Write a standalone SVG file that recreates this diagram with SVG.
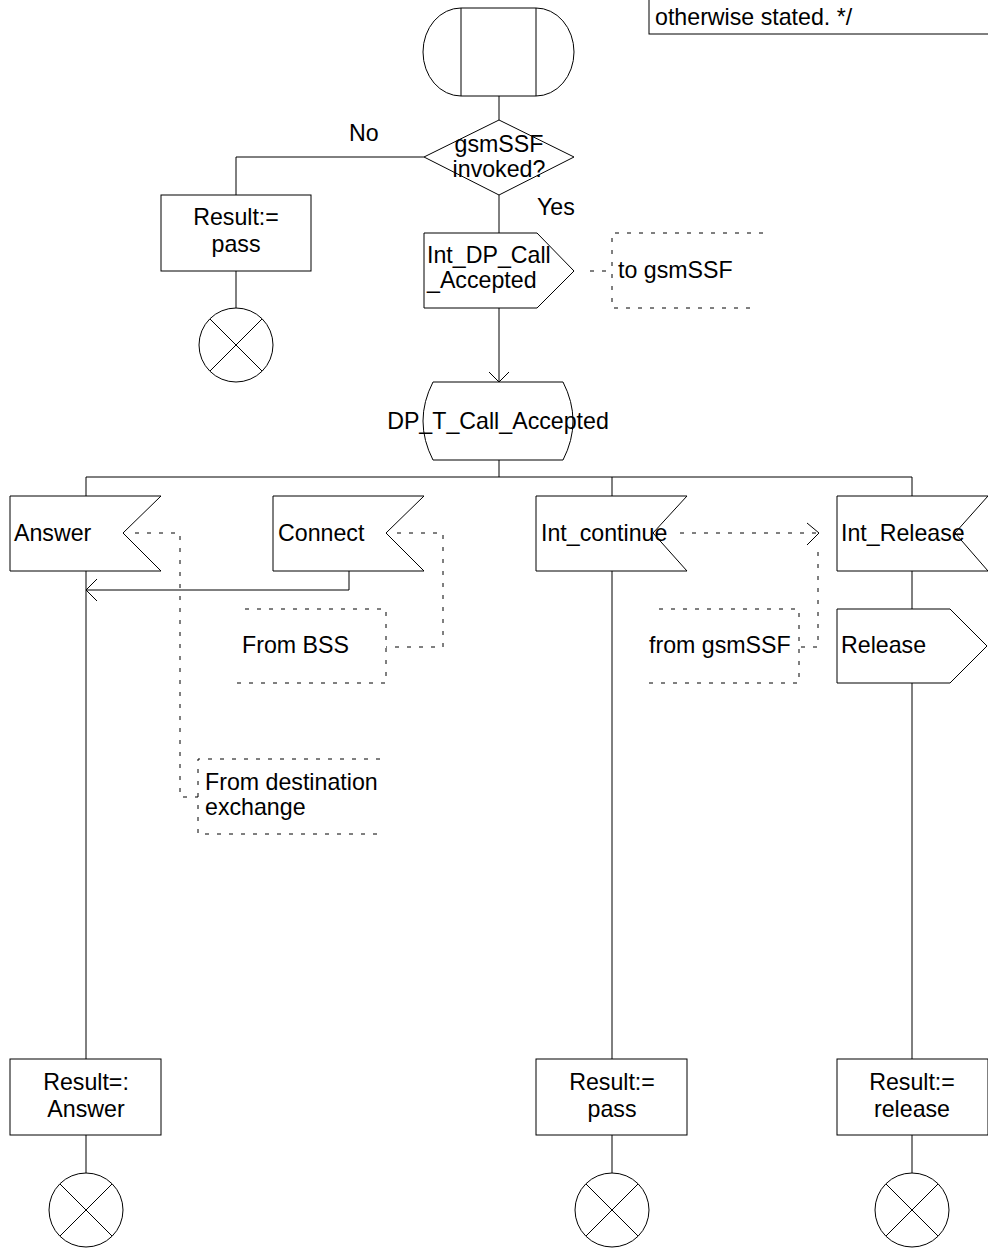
<svg xmlns="http://www.w3.org/2000/svg" width="988" height="1248" viewBox="0 0 988 1248">
<style>
.s{fill:#fff;stroke:#000;stroke-width:1}
.l{fill:none;stroke:#000;stroke-width:1}
.d{fill:none;stroke:#000;stroke-width:1;stroke-dasharray:4 8}
text{font-family:"Liberation Sans",Arial,sans-serif;font-size:23.2px;fill:#000}
.m{text-anchor:middle}
</style>
<rect width="988" height="1248" fill="#fff"/>
<g id="connectors">
<path class="l" d="M499,96V120M499,195V233M499,308V382M489,372L499,382L509,372"/>
<path class="l" d="M424,157H236V195M236,271V308"/>
<path class="l" d="M499,460V477M86,477H912M86,477V496M612,477V496M912,477V496"/>
<path class="l" d="M86,571V1059M349,571V590H86M97,579L86,590L97,601"/>
<path class="l" d="M612,571V1059M912,571V609M912,683V1059"/>
<path class="l" d="M86,1135V1173M612,1135V1173M912,1135V1173"/>
<path class="d" d="M590,271H612"/>
<path class="d" d="M135,533H180V797H198"/>
<path class="d" d="M397,533H443V647H386"/>
<path class="d" d="M680,533H818"/>
<path class="l" d="M807,523L819,533L807,545"/>
<path class="d" d="M818,552V647H799"/>
</g>
<g id="comment_top">
<rect class="s" x="649" y="-10" width="400" height="44"/>
<text x="655" y="25">otherwise stated. */</text>
</g>
<g id="start">
<path class="s" d="M461,8H536A38,44 0 0 1 536,96H461A38,44 0 0 1 461,8Z"/>
<path class="l" d="M461,8V96M536,8V96"/>
</g>
<g id="decision">
<polygon class="s" points="499,120 574,157 499,195 424,157"/>
<text class="m" x="499" y="152">gsmSSF</text>
<text class="m" x="499" y="177">invoked?</text>
<text x="349" y="141">No</text>
<text x="537" y="215">Yes</text>
</g>
<g id="result_pass_top">
<rect class="s" x="161" y="195" width="150" height="76"/>
<text class="m" x="236" y="225">Result:=</text>
<text class="m" x="236" y="252">pass</text>
</g>
<g id="stop_top">
<circle class="s" cx="236" cy="345" r="37"/>
<path class="l" d="M210,319L262,371M262,319L210,371"/>
</g>
<g id="out_int_dp">
<polygon class="s" points="424,233 537,233 574,271 537,308 424,308"/>
<text x="427" y="263">Int_DP_Call</text>
<text x="427" y="288">_Accepted</text>
</g>
<g id="comment_to_gsmssf">
<path class="d" d="M763,233H612V308H752"/>
<text x="618" y="278">to gsmSSF</text>
</g>
<g id="state_dp">
<path class="s" d="M433,382H563Q583,421 563,460H433Q413,421 433,382Z"/>
<text class="m" x="498" y="429">DP_T_Call_Accepted</text>
</g>
<g id="in_answer">
<polygon class="s" points="10,496 161,496 123,533 161,571 10,571"/>
<text x="14" y="541">Answer</text>
</g>
<g id="in_connect">
<polygon class="s" points="273,496 424,496 386,533 424,571 273,571"/>
<text x="278" y="541">Connect</text>
</g>
<g id="in_int_continue">
<polygon class="s" points="536,496 687,496 653,533 687,571 536,571"/>
<text x="541" y="541">Int_continue</text>
</g>
<g id="in_int_release">
<polygon class="s" points="837,496 988,496 955,533 988,571 837,571"/>
<text x="841" y="541">Int_Release</text>
</g>
<g id="out_release">
<polygon class="s" points="837,609 950,609 987,646 950,683 837,683"/>
<text x="841" y="653">Release</text>
</g>
<g id="comment_from_bss">
<path class="d" d="M245,609H386V683H235"/>
<text x="242" y="653">From BSS</text>
</g>
<g id="comment_from_gsmssf">
<path class="d" d="M659,609H799V683H644"/>
<text x="649" y="653">from gsmSSF</text>
</g>
<g id="comment_from_dest">
<path class="d" d="M380,759H198V834H377"/>
<text x="205" y="790">From destination</text>
<text x="205" y="815">exchange</text>
</g>
<g id="result_answer">
<rect class="s" x="10" y="1059" width="151" height="76"/>
<text class="m" x="86" y="1090">Result=:</text>
<text class="m" x="86" y="1117">Answer</text>
</g>
<g id="result_pass">
<rect class="s" x="536" y="1059" width="151" height="76"/>
<text class="m" x="612" y="1090">Result:=</text>
<text class="m" x="612" y="1117">pass</text>
</g>
<g id="result_release">
<rect class="s" x="837" y="1059" width="151" height="76"/>
<text class="m" x="912" y="1090">Result:=</text>
<text class="m" x="912" y="1117">release</text>
</g>
<g id="stop_answer">
<circle class="s" cx="86" cy="1210" r="37"/>
<path class="l" d="M60,1184L112,1236M112,1184L60,1236"/>
</g>
<g id="stop_pass">
<circle class="s" cx="612" cy="1210" r="37"/>
<path class="l" d="M586,1184L638,1236M638,1184L586,1236"/>
</g>
<g id="stop_release">
<circle class="s" cx="912" cy="1210" r="37"/>
<path class="l" d="M886,1184L938,1236M938,1184L886,1236"/>
</g>
</svg>
